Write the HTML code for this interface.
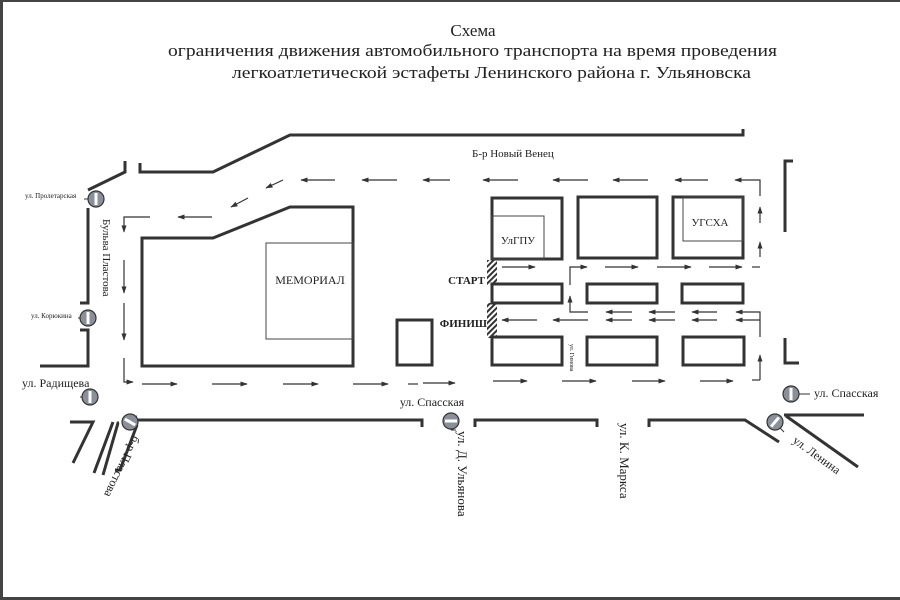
<!DOCTYPE html>
<html><head><meta charset="utf-8"><style>
html,body{margin:0;padding:0;background:#fff;}
svg{display:block;}
text{font-family:"Liberation Serif",serif;fill:#222;}
</style></head><body>
<svg width="900" height="600" viewBox="0 0 900 600" xmlns="http://www.w3.org/2000/svg">
<defs>
<marker id="a" viewBox="0 0 10 10" refX="9" refY="5" markerWidth="6" markerHeight="6" orient="auto"><path d="M0,1.5 L10,5 L0,8.5 z" fill="#333"/></marker>
<pattern id="h" width="4" height="4" patternUnits="userSpaceOnUse" patternTransform="rotate(45)"><rect width="2" height="4" fill="#333"/></pattern>
</defs>
<rect x="0" y="0" width="900" height="600" fill="#fff"/>
<rect x="0" y="0" width="900" height="2" fill="#444"/>
<rect x="0" y="0" width="3" height="600" fill="#444"/>
<rect x="0" y="597" width="900" height="3" fill="#444"/>

<text x="473" y="36" font-size="17" text-anchor="middle">Схема</text>
<text x="168" y="56" font-size="17" textLength="609" lengthAdjust="spacingAndGlyphs">ограничения движения автомобильного транспорта на время проведения</text>
<text x="232" y="78" font-size="17" textLength="519" lengthAdjust="spacingAndGlyphs">легкоатлетической эстафеты Ленинского района г. Ульяновска</text>

<g fill="none" stroke="#333" stroke-width="3">
<path d="M140,163 L140,172 L213,172 L290,135 L743,135 L743,129"/>
<path d="M125,161 L125,172 L88,190"/>
<path d="M88,208 L88,303 L80,303"/>
<path d="M80,330 L88,330 L88,366 L40,366"/>
<path d="M142,238 L213,238 L290,207 L353,207 L353,366 L142,366 Z"/>
<rect x="397" y="320" width="35" height="45"/>
<rect x="492" y="198" width="70" height="61"/>
<rect x="578" y="197" width="79" height="61"/>
<rect x="673" y="197" width="70" height="61"/>
<rect x="492" y="284" width="70" height="19"/>
<rect x="587" y="284" width="70" height="19"/>
<rect x="682" y="284" width="61" height="19"/>
<rect x="492" y="337" width="70" height="28"/>
<rect x="587" y="337" width="70" height="28"/>
<rect x="683" y="337" width="61" height="28"/>
<path d="M793,161 L785,161 L785,232"/>
<path d="M785,338 L785,363 L799,363"/>
<path d="M137,420 L422,420 L422,427"/>
<path d="M475,427 L475,420 L597,420 L597,427"/>
<path d="M649,427 L649,420 L745,420 L779,442"/>
<path d="M784,415 L864,415"/>
<path d="M786,416 L858,467"/>
<path d="M70,422 L93,422 L73,463"/>
<path d="M113,422 L94,473"/>
<path d="M119,423 L118,423 L103,475"/>
<path d="M137,425 L120,470 L115,470"/>
<path d="M124,419 L137,417"/>
</g>
<g fill="none" stroke="#444" stroke-width="1">
<rect x="266" y="243" width="87" height="96"/>
<rect x="492" y="216" width="52" height="43"/>
<rect x="683" y="197" width="60" height="44"/>
</g>
<rect x="487" y="260" width="10" height="25" fill="url(#h)"/>
<rect x="487" y="303" width="10" height="35" fill="url(#h)"/>

<g fill="none" stroke="#333" stroke-width="1.2" marker-end="url(#a)">
<path d="M335,180 L301,180"/><path d="M397,180 L362,180"/><path d="M450,180 L423,180"/>
<path d="M518,180 L483,180"/><path d="M588,180 L553,180"/><path d="M648,180 L613,180"/>
<path d="M708,180 L675,180"/><path d="M760,196 L760,180 L735,180"/>
<path d="M283,180 L266,188"/><path d="M248,198 L231,207"/>
<path d="M212,217 L178,217"/>
<path d="M150,217 L124,217 L124,232"/>
<path d="M124,260 L124,293"/><path d="M124,303 L124,340"/>
<path d="M124,358 L124,382 L133,382"/>
<path d="M142,384 L177,384"/><path d="M212,384 L247,384"/><path d="M283,384 L318,384"/><path d="M353,384 L388,384"/>
<path d="M423,383 L455,383"/><path d="M493,381 L527,381"/><path d="M562,381 L596,381"/><path d="M632,381 L665,381"/><path d="M700,381 L733,381"/>
<path d="M760,380 L760,355"/>
<path d="M760,257 L760,242"/><path d="M760,223 L760,207"/>
<path d="M502,267 L535,267"/><path d="M570,285 L570,267 L587,267"/>
<path d="M605,267 L638,267"/><path d="M657,267 L691,267"/><path d="M709,267 L742,267"/>
<path d="M588,312 L570,312 L570,296"/>
<path d="M632,312 L606,312"/><path d="M675,312 L649,312"/><path d="M717,312 L692,312"/><path d="M760,337 L760,312 L736,312"/>
<path d="M537,320 L502,320"/><path d="M588,320 L553,320"/>
<path d="M632,320 L606,320"/><path d="M675,320 L649,320"/><path d="M717,320 L692,320"/><path d="M760,320 L736,320"/>
</g>
<g stroke="#333" stroke-width="1.2">
<line x1="752" y1="267" x2="760" y2="267"/><line x1="752" y1="380" x2="760" y2="380"/>
<line x1="408" y1="384" x2="418" y2="384"/>
</g>

<g stroke="#333" stroke-width="1">
<line x1="84" y1="199" x2="88" y2="199"/>
<line x1="78" y1="318" x2="80" y2="318"/>
<line x1="80" y1="397" x2="83" y2="397"/>
<line x1="799" y1="394" x2="810" y2="394"/>
<line x1="451" y1="430" x2="456" y2="430"/><line x1="451" y1="425" x2="451" y2="430"/>
<line x1="780" y1="428" x2="784" y2="432"/>
</g>
<g stroke="#333" stroke-width="1.2" fill="#8a8f99">
<circle cx="96" cy="199" r="8"/><circle cx="88" cy="318" r="8"/><circle cx="90" cy="397" r="8"/>
<circle cx="791" cy="394" r="8"/><circle cx="451" cy="421" r="8"/><circle cx="775" cy="422" r="8"/><circle cx="130" cy="422" r="8"/>
</g>
<g fill="#fff">
<rect x="94.5" y="193" width="3" height="12"/><rect x="86.5" y="312" width="3" height="12"/><rect x="88.5" y="391" width="3" height="12"/>
<rect x="789.5" y="388" width="3" height="12"/><rect x="445" y="419.5" width="12" height="3"/>
<rect x="773.5" y="416" width="3" height="12" transform="rotate(40 775 422)"/>
<rect x="128.5" y="416" width="3" height="12" transform="rotate(-60 130 422)"/>
</g>

<text x="25" y="198" font-size="7">ул. Пролетарская</text>
<text x="31" y="318" font-size="7">ул. Корюкина</text>
<text x="22" y="387" font-size="12">ул. Радищева</text>
<text x="103" y="219" font-size="11" transform="rotate(90 103 219)">Бульва Пластова</text>
<text x="310" y="284" font-size="12" text-anchor="middle">МЕМОРИАЛ</text>
<text x="518" y="244" font-size="11" text-anchor="middle">УлГПУ</text>
<text x="710" y="226" font-size="11" text-anchor="middle">УГСХА</text>
<text x="485" y="284" font-size="11" font-weight="bold" text-anchor="end">СТАРТ</text>
<text x="487" y="327" font-size="11" font-weight="bold" text-anchor="end">ФИНИШ</text>
<text x="472" y="157" font-size="11">Б-р Новый Венец</text>
<text x="570" y="344" font-size="6" transform="rotate(90 570 344)">ул. Гимова</text>
<text x="432" y="406" font-size="12" text-anchor="middle">ул. Спасская</text>
<text x="814" y="397" font-size="12">ул. Спасская</text>
<text x="458" y="431" font-size="13" transform="rotate(90 458 431)">ул. Д. Ульянова</text>
<text x="620" y="423" font-size="13" transform="rotate(90 620 423)">ул. К. Маркса</text>
<text x="792" y="442" font-size="12" transform="rotate(36 792 442)">ул. Ленина</text>
<text x="133" y="435" font-size="12" transform="rotate(116 133 435)">б-р Пластова</text>
</svg>
</body></html>
